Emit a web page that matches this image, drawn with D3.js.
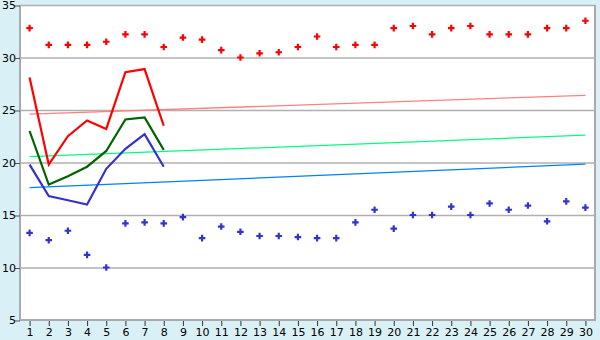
<!DOCTYPE html>
<html>
<head>
<meta charset="utf-8">
<script src="https://cdn.jsdelivr.net/npm/d3@7"></script>
<style>
  html, body { margin: 0; padding: 0; background: #d9f0f6; }
  svg { display: block; }
</style>
</head>
<body>
<svg id="chart" width="600" height="340"></svg>
<script>
// data
const days = d3.range(1, 31);
const highDots = [32.8, 31.2, 31.2, 31.2, 31.5, 32.2, 32.2, 31.0, 31.9, 31.7,
                  30.7, 30.0, 30.4, 30.5, 31.0, 32.0, 31.0, 31.2, 31.2, 32.8,
                  33.0, 32.2, 32.8, 33.0, 32.2, 32.2, 32.2, 32.8, 32.8, 33.5];
const lowDots = [13.3, 12.6, 13.5, 11.2, 10.0, 14.2, 14.3, 14.2, 14.8, 12.8,
                 13.9, 13.4, 13.0, 13.0, 12.9, 12.8, 12.8, 14.3, 15.5, 13.7,
                 15.0, 15.0, 15.8, 15.0, 16.1, 15.5, 15.9, 14.4, 16.3, 15.7];
const redLine = [28.1, 19.8, 22.5, 24.0, 23.2, 28.6, 28.9, 23.5];
const greenLine = [23.0, 17.9, 18.7, 19.6, 21.1, 24.1, 24.3, 21.2];
const blueLine = [19.8, 16.8, 16.4, 16.0, 19.4, 21.3, 22.7, 19.6];
// trend lines: value at day 1 and day 30
const redTrend = [24.6, 26.4];
const greenTrend = [20.55, 22.6];
const blueTrend = [17.6, 19.85];
const yTicks = [5, 10, 15, 20, 25, 30, 35];

const svg = d3.select("#chart");
const plotL = 20, plotR = 595, plotT = 5, plotB = 320;

const x = d3.scalePoint().domain(days).range([plotL, plotR]).padding(0.5);
const y = d3.scaleLinear().domain([5, 35]).range([plotB, plotT]);

// plot background
svg.append("rect")
    .attr("x", plotL).attr("y", plotT)
    .attr("width", plotR - plotL).attr("height", plotB - plotT)
    .attr("fill", "#ffffff");

// horizontal grid
svg.append("g")
    .selectAll("line")
    .data(yTicks.filter(d => d > 5))
    .join("line")
    .attr("x1", plotL).attr("x2", plotR)
    .attr("y1", d => y(d) + 0.5).attr("y2", d => y(d) + 0.5)
    .attr("stroke", "#b0b0b0").attr("stroke-width", 1.5);

// frame: left, bottom, right
svg.append("path")
    .attr("d", `M${plotL},${plotT}V${plotB}H${plotR}V${plotT}`)
    .attr("fill", "none").attr("stroke", "#aaaaaa").attr("stroke-width", 2);

// axes
const yAxis = d3.axisLeft(y).tickValues(yTicks).tickSize(5).tickSizeOuter(0);
const gy = svg.append("g").attr("transform", `translate(${plotL},0)`).call(yAxis);
gy.select(".domain").remove();
gy.selectAll("line").attr("stroke", "#555").attr("transform", "translate(0,0.5)");
gy.selectAll("text")
    .attr("x", -4)
    .attr("dy", "0.35em")
    .attr("fill", "#000")
    .style("font", "11px 'DejaVu Sans', sans-serif");

const xAxis = d3.axisBottom(x).tickSize(5).tickSizeOuter(0);
const gx = svg.append("g").attr("transform", `translate(0,${plotB + 1})`).call(xAxis);
gx.select(".domain").remove();
gx.selectAll("line").attr("stroke", "#333");
gx.selectAll("text")
    .attr("y", 7)
    .attr("fill", "#000")
    .style("font", "11px 'DejaVu Sans', sans-serif");

// trend lines
const trends = [[redTrend, "#ff8080"], [greenTrend, "#00ff80"], [blueTrend, "#0080ff"]];
svg.append("g")
    .selectAll("line")
    .data(trends)
    .join("line")
    .attr("x1", x(days[0])).attr("x2", x(days[days.length - 1]))
    .attr("y1", d => y(d[0][0])).attr("y2", d => y(d[0][1]))
    .attr("stroke", d => d[1]).attr("stroke-width", 1.3);

// data lines
const line = d3.line().x((d, i) => x(days[i])).y(d => y(d));
const series = [[redLine, "#ff0000"], [greenLine, "#006400"], [blueLine, "#3333cc"]];
svg.append("g")
    .selectAll("path")
    .data(series)
    .join("path")
    .attr("d", d => line(d[0]))
    .attr("fill", "none")
    .attr("stroke", d => d[1])
    .attr("stroke-width", 2.2)
    .attr("stroke-linejoin", "miter");

// dot markers
const cross = d3.symbol().type(d3.symbolCross).size(24);
const dots = [[highDots, "#ff0000"], [lowDots, "#3333cc"]];
dots.forEach(([vals, color]) => {
    svg.append("g")
        .selectAll("path")
        .data(vals)
        .join("path")
        .attr("d", cross)
        .attr("transform", (d, i) => `translate(${x(days[i])},${y(d)})`)
        .attr("fill", color);
});
</script>
</body>
</html>
